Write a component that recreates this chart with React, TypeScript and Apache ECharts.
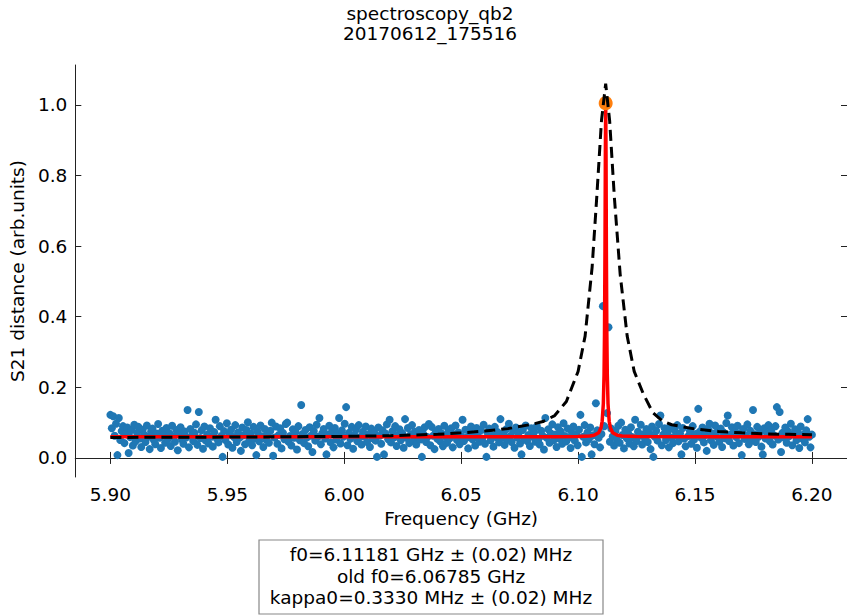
import React, { useEffect, useRef } from "react";
import * as echarts from "echarts";

// Frequency sweep (GHz): start and step of the measured points
const FREQ_START = 5.9;
const FREQ_STEP = 0.0006;

// Measured S21 distance (arb.units), one value per sweep point
const S21: number[] = [
  0.122, 0.084, 0.118, 0.063, 0.097, 0.008, 0.113, 0.051, 0.076, 0.090, 0.042, 0.068, 0.086, 0.014, 0.059, 0.079, 0.035, 0.094, 0.047, 0.071,
  0.088, 0.055, 0.031, 0.080, 0.066, 0.045, 0.092, 0.060, 0.025, 0.074, 0.083, 0.050, 0.039, 0.069, 0.096, 0.057, 0.028, 0.077, 0.064, 0.043,
  0.085, 0.053, 0.070, 0.034, 0.091, 0.061, 0.046, 0.079, 0.022, 0.067, 0.087, 0.052, 0.040, 0.075, 0.058, 0.136, 0.030, 0.082, 0.063, 0.048,
  0.071, 0.095, 0.037, 0.130, 0.056, 0.078, 0.026, 0.089, 0.049, 0.066, 0.041, 0.084, 0.060, 0.032, 0.073, 0.108, 0.054, 0.044, 0.090, 0.062,
  0.003, 0.076, 0.051, 0.098, 0.038, 0.068, 0.080, 0.029, 0.059, 0.093, 0.045, 0.072, 0.057, 0.020, 0.086, 0.064, 0.039, 0.079, 0.101, 0.050,
  0.069, 0.036, 0.088, 0.055, 0.008, 0.074, 0.047, 0.092, 0.061, 0.031, 0.082, 0.052, 0.067, 0.043, 0.077, 0.100, 0.006, 0.058, 0.089, 0.040,
  0.065, 0.084, 0.027, 0.071, 0.053, 0.096, 0.100, 0.046, 0.062, 0.035, 0.081, 0.057, 0.073, 0.024, 0.090, 0.050, 0.150, 0.068, 0.042, 0.079,
  0.058, 0.033, 0.087, 0.063, 0.017, 0.076, 0.049, 0.094, 0.060, 0.113, 0.039, 0.070, 0.082, 0.055, 0.010, 0.066, 0.091, 0.044, 0.075, 0.030,
  0.085, 0.052, 0.068, 0.113, 0.041, 0.078, 0.060, 0.097, 0.144, 0.036, 0.071, 0.054, 0.088, 0.026, 0.064, 0.080, 0.047, 0.093, 0.059, 0.038,
  0.074, 0.061, 0.089, 0.045, 0.067, 0.031, 0.083, 0.056, 0.072, 0.049, 0.003, 0.086, 0.063, 0.040, 0.078, 0.010, 0.069, 0.095, 0.053, 0.108,
  0.044, 0.076, 0.058, 0.090, 0.034, 0.065, 0.081, 0.050, 0.070, 0.029, 0.110, 0.057, 0.085, 0.042, 0.066, 0.093, 0.048, 0.074, 0.038, 0.061,
  0.079, 0.052, 0.003, 0.068, 0.087, 0.045, 0.059, 0.096, 0.036, 0.088, 0.063, 0.025, 0.075, 0.054, 0.082, 0.047, 0.069, 0.033, 0.091, 0.060,
  0.043, 0.077, 0.056, 0.084, 0.030, 0.066, 0.092, 0.051, 0.072, 0.039, 0.062, 0.108, 0.048, 0.080, 0.058, 0.027, 0.074, 0.089, 0.053, 0.067,
  0.035, 0.085, 0.061, 0.046, 0.078, 0.055, 0.094, 0.040, 0.003, 0.070, 0.083, 0.050, 0.064, 0.032, 0.088, 0.059, 0.073, 0.044, 0.110, 0.057,
  0.068, 0.037, 0.081, 0.053, 0.097, 0.062, 0.045, 0.076, 0.029, 0.086, 0.058, 0.071, 0.041, 0.010, 0.079, 0.054, 0.092, 0.048, 0.065, 0.034,
  0.084, 0.060, 0.073, 0.046, 0.090, 0.052, 0.038, 0.077, 0.063, 0.024, 0.113, 0.057, 0.081, 0.043, 0.069, 0.095, 0.050, 0.066, 0.031, 0.087,
  0.055, 0.075, 0.040, 0.098, 0.062, 0.047, 0.083, 0.058, 0.028, 0.071, 0.089, 0.049, 0.067, 0.036, 0.080, 0.122, 0.003, 0.060, 0.093, 0.044,
  0.072, 0.053, 0.086, 0.010, 0.064, 0.039, 0.155, 0.078, 0.057, 0.030, 0.068, 0.430, 0.090, 1.005, 0.127, 0.370, 0.046, 0.083, 0.061, 0.035,
  0.076, 0.052, 0.091, 0.043, 0.100, 0.065, 0.027, 0.080, 0.056, 0.070, 0.041, 0.087, 0.059, 0.033, 0.108, 0.048, 0.074, 0.063, 0.094, 0.038,
  0.067, 0.054, 0.082, 0.045, 0.071, 0.025, 0.089, 0.003, 0.060, 0.077, 0.049, 0.096, 0.120, 0.036, 0.066, 0.084, 0.051, 0.073, 0.030, 0.088,
  0.058, 0.042, 0.079, 0.064, 0.093, 0.047, 0.070, 0.010, 0.085, 0.055, 0.033, 0.108, 0.062, 0.076, 0.040, 0.090, 0.052, 0.068, 0.029, 0.139,
  0.074, 0.057, 0.086, 0.044, 0.065, 0.020, 0.081, 0.097, 0.050, 0.069, 0.037, 0.092, 0.061, 0.078, 0.046, 0.083, 0.031, 0.072, 0.056, 0.099,
  0.120, 0.048, 0.066, 0.087, 0.035, 0.075, 0.059, 0.091, 0.042, 0.070, 0.008, 0.082, 0.054, 0.063, 0.095, 0.039, 0.077, 0.051, 0.136, 0.067,
  0.045, 0.088, 0.060, 0.073, 0.032, 0.010, 0.084, 0.055, 0.069, 0.093, 0.047, 0.079, 0.038, 0.064, 0.090, 0.144, 0.052, 0.130, 0.017, 0.071,
  0.058, 0.086, 0.043, 0.075, 0.062, 0.097, 0.036, 0.068, 0.081, 0.050, 0.072, 0.028, 0.089, 0.055, 0.066, 0.044, 0.078, 0.110, 0.060, 0.030,
  0.066,
];

// Fitted curve (red)
const FIT_F: number[] = [
  5.9, 6.05, 6.09, 6.1, 6.105, 6.1068, 6.1088, 6.1098, 6.1103, 6.1108, 6.1111,
  6.1113, 6.1115, 6.11166, 6.11181, 6.11196, 6.1121, 6.1123, 6.1125, 6.1128,
  6.1133, 6.1138, 6.1148, 6.1168, 6.1188, 6.125, 6.15, 6.2,
];
const FIT_Y: number[] = [
  0.06, 0.06, 0.06, 0.061, 0.062, 0.064, 0.0715, 0.0855, 0.104, 0.154, 0.234,
  0.35, 0.582, 0.846, 1.005, 0.846, 0.582, 0.35, 0.234, 0.154,
  0.104, 0.0855, 0.0715, 0.064, 0.062, 0.061, 0.06, 0.06,
];

// Initial guess curve (black dashed)
const GUESS_F: number[] = [
  5.9, 5.95, 6.0, 6.02, 6.04, 6.05, 6.06, 6.07, 6.08, 6.085, 6.09, 6.095, 6.1,
  6.103, 6.106, 6.108, 6.11, 6.1118, 6.1135, 6.1155, 6.118, 6.121, 6.124,
  6.128, 6.132, 6.136, 6.14, 6.15, 6.16, 6.17, 6.18, 6.19, 6.2,
];
const GUESS_Y: number[] = [
  0.058, 0.059, 0.061, 0.063, 0.067, 0.071, 0.076, 0.083, 0.095, 0.103, 0.12,
  0.16, 0.245, 0.345, 0.54, 0.74, 0.955, 1.06, 0.955, 0.74, 0.52, 0.345, 0.245,
  0.18, 0.128, 0.105, 0.094, 0.082, 0.075, 0.071, 0.068, 0.067, 0.066,
];

const X_TICKS = [5.9, 5.95, 6.0, 6.05, 6.1, 6.15, 6.2];
const Y_TICKS = [0, 0.2, 0.4, 0.6, 0.8, 1.0];
const TITLE_LINES = ["spectroscopy_qb2", "20170612_175516"];
const BOX_LINES = [
  "f0=6.11181 GHz \u00b1 (0.02) MHz",
  "old f0=6.06785 GHz",
  "kappa0=0.3330 MHz \u00b1 (0.02) MHz",
];
const X_NAME = "Frequency (GHz)";
const Y_NAME = "S21 distance (arb.units)";

const FONT = "DejaVu Sans";
const FS = 18.5;

export default function App() {
  const ref = useRef<HTMLDivElement>(null);
  useEffect(() => {
    if (!ref.current) return;
    const chart = echarts.init(ref.current, undefined, { renderer: "svg" });
    const scatter = S21.map((v, i) => [
      Number((FREQ_START + i * FREQ_STEP).toFixed(4)),
      v,
    ]);
    const peakIndex = S21.indexOf(Math.max(...S21));
    const fit = FIT_F.map((f, i) => [f, FIT_Y[i]]);
    const guess = GUESS_F.map((f, i) => [f, GUESS_Y[i]]);
    const axisLine = { show: true, lineStyle: { color: "#222", width: 1 } };
    const tick = (vals: number[]) => ({
      show: true,
      inside: true,
      length: 6,
      customValues: vals,
      lineStyle: { color: "#222", width: 1 },
    });
    const xMin = 5.885,
      xMax = 6.215,
      yMin = -0.054,
      yMax = 1.113;
    chart.setOption({
      animation: false,
      backgroundColor: "#fff",
      grid: { left: 74, top: 65, width: 775, height: 412, containLabel: false },
      xAxis: [
        {
          type: "value",
          min: xMin,
          max: xMax,
          position: "bottom",
          axisLine,
          axisTick: tick(X_TICKS),
          splitLine: { show: false },
          axisLabel: {
            customValues: X_TICKS,
            formatter: (v: number) => v.toFixed(2),
            color: "#000",
            fontFamily: FONT,
            fontSize: FS,
            margin: 8,
          },
          name: X_NAME,
          nameLocation: "middle",
          nameGap: 31,
          nameTextStyle: { color: "#000", fontFamily: FONT, fontSize: FS },
        },
        {
          type: "value",
          min: xMin,
          max: xMax,
          position: "top",
          axisLine,
          axisTick: tick(X_TICKS),
          splitLine: { show: false },
          axisLabel: { show: false, customValues: X_TICKS },
        },
      ],
      yAxis: [
        {
          type: "value",
          min: yMin,
          max: yMax,
          position: "left",
          axisLine,
          axisTick: tick(Y_TICKS),
          splitLine: { show: false },
          axisLabel: {
            customValues: Y_TICKS,
            formatter: (v: number) => v.toFixed(1),
            color: "#000",
            fontFamily: FONT,
            fontSize: FS,
            margin: 8,
          },
          name: Y_NAME,
          nameLocation: "middle",
          nameGap: 45,
          nameTextStyle: { color: "#000", fontFamily: FONT, fontSize: FS },
        },
        {
          type: "value",
          min: yMin,
          max: yMax,
          position: "right",
          axisLine,
          axisTick: tick(Y_TICKS),
          splitLine: { show: false },
          axisLabel: { show: false, customValues: Y_TICKS },
        },
      ],
      series: [
        {
          type: "scatter",
          data: scatter,
          symbolSize: 8,
          itemStyle: { color: "#1f77b4", opacity: 1 },
          silent: true,
          z: 2,
        },
        {
          type: "line",
          data: fit,
          showSymbol: false,
          lineStyle: { color: "#ff0000", width: 3.5 },
          silent: true,
          z: 3,
        },
        {
          type: "line",
          data: [scatter[peakIndex]],
          showSymbol: true,
          showAllSymbol: true,
          symbol: "circle",
          symbolSize: 14,
          itemStyle: { color: "#ff7f0e", opacity: 1, borderWidth: 0 },
          lineStyle: { width: 0 },
          silent: true,
          z: 6,
        },
        {
          type: "line",
          data: guess,
          showSymbol: false,
          lineStyle: { color: "#000", width: 3, type: [11, 6] },
          silent: true,
          z: 7,
        },
      ],
      graphic: [
        {
          type: "text",
          x: 430,
          y: 3,
          style: {
            text: TITLE_LINES.join("\n"),
            font: `${FS}px "${FONT}"`,
            fill: "#000",
            textAlign: "center",
            textVerticalAlign: "top",
            lineHeight: 20.5,
          },
        },
        {
          type: "rect",
          shape: { x: 259, y: 540, width: 344, height: 74 },
          style: { fill: "#fff", stroke: "#888", lineWidth: 1.2 },
        },
        {
          type: "text",
          x: 431,
          y: 544,
          style: {
            text: BOX_LINES.join("\n"),
            font: `${FS}px "${FONT}"`,
            fill: "#000",
            textAlign: "center",
            textVerticalAlign: "top",
            lineHeight: 21.5,
          },
        },
      ],
    });
    return () => chart.dispose();
  }, []);
  return (
    <div
      ref={ref}
      style={{ position: "fixed", left: 0, top: 0, width: 847, height: 616 }}
    />
  );
}
